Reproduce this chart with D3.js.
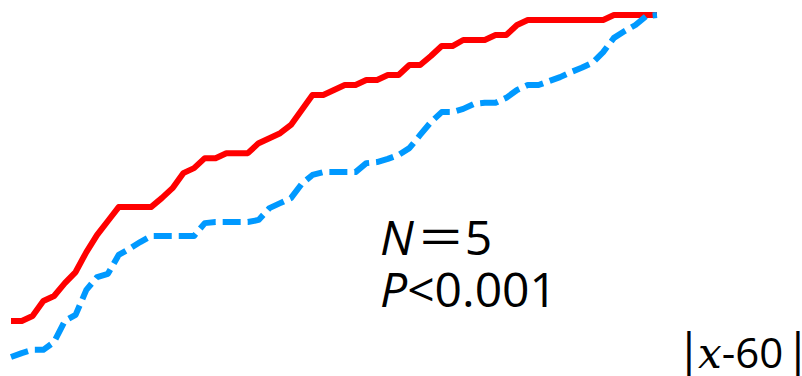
<!DOCTYPE html>
<html lang="en">
  <head>
    <meta charset="utf-8">
    <title>|x-60|</title>
    <script src="https://cdn.jsdelivr.net/npm/d3@7"></script>
    <style>
body {
  margin: 0;
  background: #fff;
}

.line {
  fill: none;
  stroke-width: 6px;
  stroke-linejoin: round;
}

.note {
  font-family: "Open Sans", sans-serif;
  fill: #000;
}
    </style>
  </head>
  <body>
    <svg width="802" height="376"></svg>

<script>

// |x-60| from 0 to 60, cumulative percent for each group
var xs = d3.range(0, 61);

var redVals = [14.3, 14.3, 15.7, 19.9, 21.3, 24.9, 28.0, 33.6, 38.4, 42.3,
  46.2, 46.2, 46.2, 46.2, 48.7, 51.5, 55.7, 57.1, 59.9, 59.9,
  61.3, 61.3, 61.3, 64.1, 65.5, 66.9, 69.2, 73.4, 77.6, 77.6,
  79.0, 80.4, 80.4, 81.8, 81.8, 83.2, 83.2, 86.0, 86.0, 88.5,
  91.3, 91.3, 93.0, 93.0, 93.0, 94.4, 94.4, 97.2, 98.6, 98.6,
  98.6, 98.6, 98.6, 98.6, 98.6, 98.6, 100, 100, 100, 100, 100];

var blueVals = [4.2, 5.3, 6.2, 6.2, 8.4, 14.3, 16.0, 23.0, 26.6, 27.5,
  32.8, 34.5, 36.4, 38.1, 38.1, 38.1, 38.1, 38.1, 41.7, 42.0,
  42.0, 42.0, 42.0, 42.6, 45.9, 47.3, 48.7, 52.7, 55.2, 56.0,
  56.0, 56.0, 56.0, 58.5, 58.8, 59.7, 60.8, 62.7, 66.4, 70.0,
  72.8, 72.8, 73.7, 75.1, 75.4, 75.4, 76.8, 79.0, 80.4, 80.4,
  81.5, 82.6, 84.0, 85.2, 86.6, 89.6, 93.6, 95.5, 97.2, 99.7, 100];

var series = [
  {id: "red", color: "#ff0000", dash: null, values: redVals},
  {id: "blue", color: "#0099ff", dash: "18,7", values: blueVals}
];

var svg = d3.select("svg");

var x = d3.scaleLinear().domain([0, 60]).range([11, 657]),
    y = d3.scaleLinear().domain([0, 100]).range([372, 15]);

var line = d3.line()
    .x(function(d, i) { return x(xs[i]); })
    .y(function(d) { return y(d); });

svg.selectAll(".line")
  .data(series)
  .enter().append("path")
    .attr("class", "line")
    .attr("d", function(d) { return line(d.values); })
    .style("stroke", function(d) { return d.color; })
    .style("stroke-dasharray", function(d) { return d.dash; });

// stats
var n = svg.append("text").attr("class", "note")
    .attr("x", 380).attr("y", 255)
    .style("font-size", "48px");
n.append("tspan").style("font-style", "italic").text("N");
n.append("tspan").style("font-family", "'Noto Sans CJK SC'").attr("dx", 3).text("＝");
n.append("tspan").text("5");

var p = svg.append("text").attr("class", "note")
    .attr("x", 380).attr("y", 307)
    .style("font-size", "48px");
p.append("tspan").style("font-style", "italic").text("P");
p.append("tspan").text("<0.001");

// axis label
var lab = svg.append("text").attr("class", "note")
    .attr("y", 368)
    .style("font-size", "42px");
lab.append("tspan").attr("x", 676).style("font-size", "47px").text("|");
lab.append("tspan").attr("x", 698).style("font-family", "'DejaVu Serif', serif").style("font-style", "italic").text("x");
lab.append("tspan").text("-60");
lab.append("tspan").attr("x", 785).style("font-size", "47px").text("|");

</script>
  </body>
</html>
